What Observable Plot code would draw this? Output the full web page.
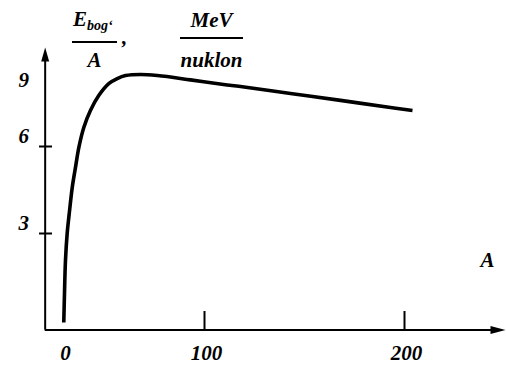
<!DOCTYPE html>
<html>
<head>
<meta charset="utf-8">
<script src="https://cdn.jsdelivr.net/npm/d3@7"></script>
<script src="https://cdn.jsdelivr.net/npm/@observablehq/plot@0.6"></script>
<style>
  html, body { margin: 0; padding: 0; background: #fff; }
  #wrap { position: relative; width: 506px; height: 368px; overflow: hidden; }
  #chart svg { display: block; }
  .t { position: absolute; font-family: "Liberation Serif", "DejaVu Serif", serif; font-weight: bold; font-style: italic; color: #000; white-space: nowrap; font-size: 21px; line-height: 21px; }
  .sub { font-size: 14px; line-height: 14px; }
  .bar { position: absolute; background: #000; height: 2px; }
  .c { text-align: center; }
</style>
</head>
<body>
<div id="wrap">
  <div id="chart"></div>
  <div class="t" style="left:73px;top:9px;">E</div>
  <div class="t sub" style="left:87px;top:19px;">bog‘</div>
  <div class="bar" style="left:72px;top:41px;width:45px;"></div>
  <div class="t c" style="left:72px;top:50px;width:45px;">A</div>
  <div class="t" style="left:122px;top:27px;">,</div>
  <div class="t c" style="left:180px;top:10px;width:63px;">MeV</div>
  <div class="bar" style="left:180px;top:37px;width:63px;"></div>
  <div class="t c" style="left:180px;top:50px;width:63px;">nuklon</div>
</div>
<script>
// Mass number A and binding energy per nucleon (MeV/nuklon)
const massNumber = [0.2, 0.7, 1.4, 2.6, 4.3, 6.2, 8.5, 10.9, 14.4, 19.1, 25.0, 32.1, 38.1, 44.0, 54.6, 66.7, 90, 109.5, 118, 143, 168, 193, 204];
const bindingPerNucleon = [0, 0.98, 2.09, 3.0, 3.79, 4.59, 5.28, 5.97, 7.02, 7.93, 8.73, 9.37, 9.64, 9.80, 9.86, 9.80, 9.57, 9.32, 9.21, 8.84, 8.47, 8.09, 7.93];

// Tick labels and tick marks
const xTickLabels = [0, 100, 200];
const xTickMarks = [100, 200];
const yTickLabels = [3, 6, 9];
const yTickMarks = [3, 6];

// Sketch scales (the hand-drawn axes are not evenly spaced)
const xDomain = [0, 100, 200];
const yDomain = [0, 3, 6, 9];

// Axis extents (data units)
const axisOriginA = -13;
const axisOriginE = -0.25;
const xAxisEndA = 250.5;
const yAxisEndE = 11.3;
const xTickTopE = 0.37;
const yTickLeftA = -17;
const yTickRightA = -7.8;

const curve = massNumber.map((a, i) => ({A: a, E: bindingPerNucleon[i]}));

const arrowUp = {draw(ctx) { ctx.moveTo(0, 0); ctx.lineTo(4, 14); ctx.lineTo(-4, 14); ctx.closePath(); }};
const arrowRight = {draw(ctx) { ctx.moveTo(0, 0); ctx.lineTo(-15, 4); ctx.lineTo(-15, -4); ctx.closePath(); }};

const font = {fontFamily: "Liberation Serif", fontWeight: "bold", fontStyle: "italic", fontSize: 21, fill: "#000"};

const chart = Plot.plot({
  width: 506,
  height: 368,
  margin: 0,
  style: {background: "#fff", overflow: "visible"},
  x: {type: "linear", domain: xDomain, range: [63, 204, 404], axis: null},
  y: {type: "linear", domain: yDomain, range: [322, 233, 146, 90], axis: null},
  marks: [
    // axes
    Plot.ruleX([axisOriginA], {x: d => d, y1: axisOriginE, y2: yAxisEndE - 0.5, stroke: "#000", strokeWidth: 2}),
    Plot.ruleY([axisOriginE], {y: d => d, x1: axisOriginA, x2: xAxisEndA - 4, stroke: "#000", strokeWidth: 2}),
    Plot.dot([yAxisEndE], {x: axisOriginA, y: d => d, symbol: arrowUp, fill: "#000", stroke: "none", r: 5}),
    Plot.dot([xAxisEndA], {x: d => d, y: axisOriginE, symbol: arrowRight, fill: "#000", stroke: "none", r: 5}),
    // ticks
    Plot.ruleX(xTickMarks, {x: d => d, y1: axisOriginE, y2: xTickTopE, stroke: "#000", strokeWidth: 2}),
    Plot.ruleY(yTickMarks, {y: d => d, x1: yTickLeftA, x2: yTickRightA, stroke: "#000", strokeWidth: 2}),
    // tick labels
    Plot.text(xTickLabels, {x: d => d, text: d => String(d), frameAnchor: "bottom", dy: -9, dx: 2, ...font}),
    Plot.text(yTickLabels, {y: d => d, text: d => String(d), frameAnchor: "left", dx: 18, dy: -10, ...font}),
    Plot.text(["A"], {text: d => d, frameAnchor: "bottom-right", dx: -12, dy: -102, ...font}),
    // curve
    Plot.line(curve, {x: "A", y: "E", curve: "catmull-rom", stroke: "#000", strokeWidth: 3.6, strokeLinecap: "butt"})
  ]
});
document.getElementById("chart").appendChild(chart);
</script>
</body>
</html>
